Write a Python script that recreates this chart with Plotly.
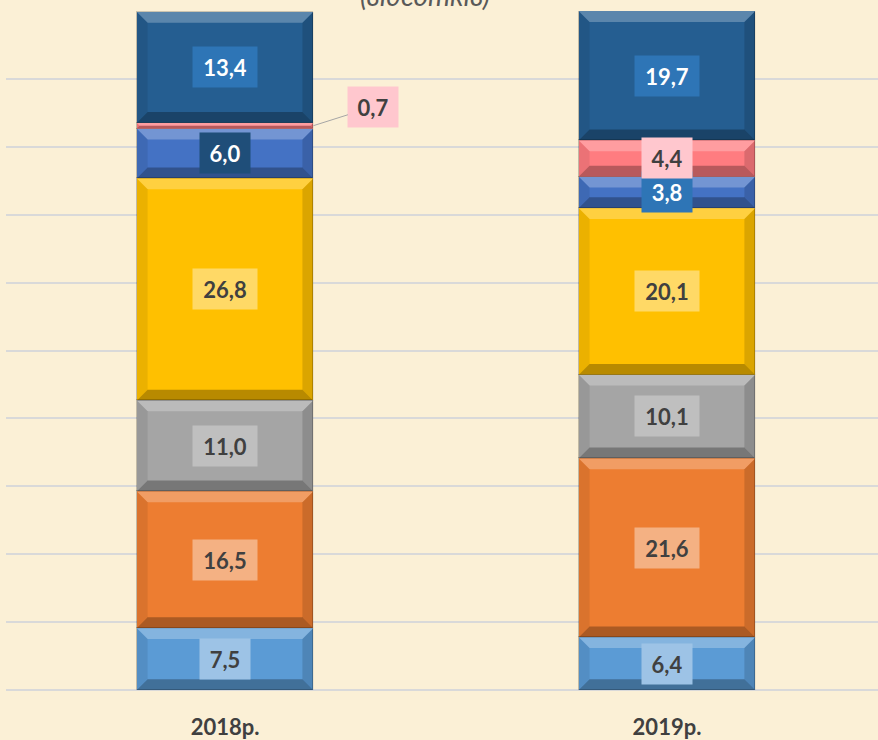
import plotly.graph_objects as go

# ---- data ----
categories = ["2018р.", "2019р."]
seg1 = [7.5, 6.4]     # light blue (bottom)
seg2 = [16.5, 21.6]   # orange
seg3 = [11.0, 10.1]   # grey
seg4 = [26.8, 20.1]   # gold
seg5 = [6.0, 3.8]     # blue
seg6 = [0.7, 4.4]     # pink
seg7 = [13.4, 19.7]   # dark blue (top)

series = [seg1, seg2, seg3, seg4, seg5, seg6, seg7]
bar_colors = ["#5B9BD5", "#ED7D31", "#A5A5A5", "#FFC000", "#4472C4", "#FF7C80", "#255E91"]
box_colors = [
    ["#9DC3E6", "#9DC3E6"],
    ["#F4B183", "#F4B183"],
    ["#BFBFBF", "#BFBFBF"],
    ["#FFD966", "#FFD966"],
    ["#1F4E79", "#2E75B6"],
    ["#FFC7CE", "#FFC7CE"],
    ["#2E75B6", "#2E75B6"],
]
text_colors = [
    ["#404040", "#404040"],
    ["#404040", "#404040"],
    ["#404040", "#404040"],
    ["#404040", "#404040"],
    ["#FFFFFF", "#FFFFFF"],
    ["#404040", "#404040"],
    ["#FFFFFF", "#FFFFFF"],
]

YMAX = 82
BAR_W = 0.40
FONT = "Lato"

W, H = 878, 740
M_L, M_R, M_T, M_B = 6, 0, 11, 48
X_RANGE = [-0.4955, 1.4774]
PX_PER_Y = (H - M_T - M_B) / YMAX
PX_PER_X = (W - M_L - M_R) / (X_RANGE[1] - X_RANGE[0])
HALF_W_PX = BAR_W * PX_PER_X / 2

xs = list(range(len(categories)))
fig = go.Figure()
for vals, col in zip(series, bar_colors):
    fig.add_trace(go.Bar(
        x=xs, y=vals, width=BAR_W,
        marker=dict(color=col, line=dict(color="rgba(0,0,0,0.2)", width=1)),
        showlegend=False, hoverinfo="skip",
    ))

def fmt(v):
    return f"{v:.1f}".replace(".", ",")

annotations = []
shapes = []
for i in xs:
    base = 0.0
    for k, vals in enumerate(series):
        v = vals[i]
        top = base + v
        vis_top = min(top, YMAX)
        # bevel shading (pixel-sized paths anchored at the segment's top)
        hpx = (vis_top - base) * PX_PER_Y
        d = min(11.0, hpx / 2)
        Wp = HALF_W_PX
        bevels = [
            (f"M {-Wp},0 L {Wp},0 L {Wp-d},{-d} L {-Wp+d},{-d} Z", "rgba(255,255,255,0.25)"),
            (f"M {-Wp},{-hpx} L {Wp},{-hpx} L {Wp-d},{-hpx+d} L {-Wp+d},{-hpx+d} Z", "rgba(0,0,0,0.28)"),
            (f"M {-Wp},0 L {-Wp+d},{-d} L {-Wp+d},{-hpx+d} L {-Wp},{-hpx} Z", "rgba(0,0,0,0.08)"),
            (f"M {Wp},0 L {Wp-d},{-d} L {Wp-d},{-hpx+d} L {Wp},{-hpx} Z", "rgba(0,0,0,0.14)"),
        ]
        for path, fc in bevels:
            shapes.append(dict(
                type="path", xref="x", yref="y", xsizemode="pixel", ysizemode="pixel",
                xanchor=i, yanchor=vis_top, path=path, fillcolor=fc,
                line=dict(width=0), layer="above",
            ))

        txt = fmt(v)
        w = 50 if len(txt) <= 3 else 64
        if v < 2:
            annotations.append(dict(
                x=i + BAR_W / 2, y=(base + top) / 2, xref="x", yref="y",
                text=f"<b>{txt}</b>", showarrow=True, arrowhead=0, arrowwidth=1,
                arrowcolor="#A6A6A6", ax=60, ay=-19,
                width=w, height=40, borderpad=0, bgcolor=box_colors[k][i],
                font=dict(family=FONT, size=22, color=text_colors[k][i]),
            ))
        else:
            annotations.append(dict(
                x=i, y=(base + vis_top) / 2, xref="x", yref="y",
                text=f"<b>{txt}</b>", showarrow=False,
                width=w, height=40, borderpad=0, bgcolor=box_colors[k][i],
                font=dict(family=FONT, size=22, color=text_colors[k][i]),
            ))
        base = top

annotations.append(dict(
    x=0.4525, y=1, xref="x", yref="paper", yanchor="bottom", yshift=-3,
    text="<i>(відсотків)</i>", showarrow=False,
    font=dict(family=FONT, size=28, color="#595959"),
))

fig.update_layout(
    barmode="stack",
    width=W, height=H,
    margin=dict(l=M_L, r=M_R, t=M_T, b=M_B),
    paper_bgcolor="#FBF0D6",
    plot_bgcolor="#FBF0D6",
    annotations=annotations,
    shapes=shapes,
    xaxis=dict(
        range=X_RANGE, tickvals=xs,
        ticktext=[f"<b>{c}</b>" for c in categories],
        tickfont=dict(family=FONT, size=22, color="#404040"),
        showgrid=False, zeroline=False, showline=False, ticks="",
        ticklabelstandoff=22,
    ),
    yaxis=dict(
        range=[0, YMAX], dtick=YMAX / 10, showticklabels=False,
        showgrid=True, gridcolor="#D9D9D9", gridwidth=2,
        zeroline=True, zerolinecolor="#D9D9D9", zerolinewidth=2,
        showline=False, ticks="",
    ),
    bargap=0,
)

fig.write_html("out.html", config={"displayModeBar": False},
               post_script="document.body.style.margin='0';")
